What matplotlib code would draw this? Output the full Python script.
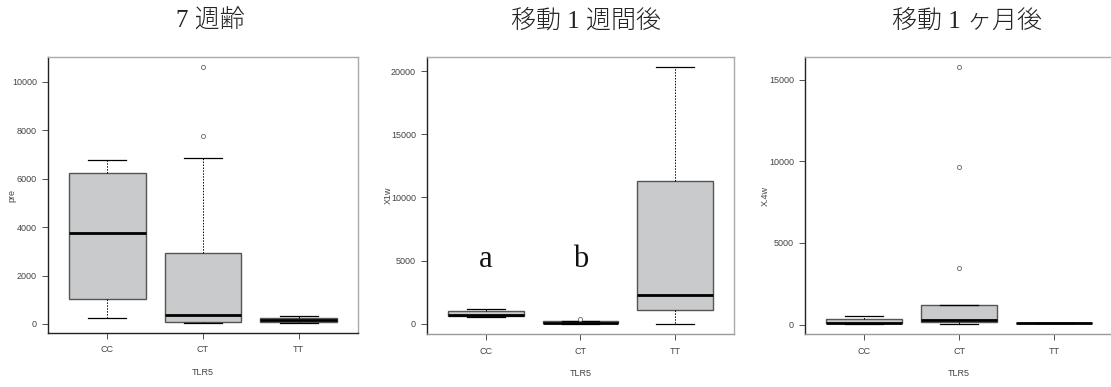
import matplotlib
matplotlib.use("Agg")
import matplotlib.pyplot as plt

# genotype groups on the x axis
groups = ["CC", "CT", "TT"]

# five-number summaries per panel: low whisker, Q1, median, Q3, high whisker
pre_low = [250, 50, 50]
pre_q1 = [1050, 100, 100]
pre_med = [3750, 380, 150]
pre_q3 = [6250, 2950, 250]
pre_high = [6750, 6870, 350]
pre_out = [[], [7750, 10600], []]

w1_low = [560, 0, 0]
w1_q1 = [620, 20, 1100]
w1_med = [660, 60, 2250]
w1_q3 = [1000, 180, 11300]
w1_high = [1200, 250, 20300]
w1_out = [[], [380], []]

w4_low = [60, 60, 80]
w4_q1 = [80, 150, 90]
w4_med = [100, 280, 100]
w4_q3 = [370, 1230, 110]
w4_high = [550, 1230, 130]
w4_out = [[], [3450, 9650, 15750], []]

titles = ["7 週齢", "移動 1 週間後", "移動 1 ヶ月後"]
ylabels = ["pre", "X1w", "X.4w"]
xlabel = "TLR5"
letters = ["a", "b"]
letter_y = 4460

panels = [
    (pre_low, pre_q1, pre_med, pre_q3, pre_high, pre_out, [0, 2000, 4000, 6000, 8000, 10000]),
    (w1_low, w1_q1, w1_med, w1_q3, w1_high, w1_out, [0, 5000, 10000, 15000, 20000]),
    (w4_low, w4_q1, w4_med, w4_q3, w4_high, w4_out, [0, 5000, 10000, 15000]),
]

W, H = 1111, 387
fig = plt.figure(figsize=(W / 100, H / 100), dpi=100)

# axes boxes in pixels: left, right, top, bottom
boxes = [(48, 358, 57, 333), (427, 734, 57, 334), (805, 1113, 57, 334)]
title_x = [210, 586, 967]
ylab_x = [12, 388, 765]

cjk = ["Liberation Serif", "Noto Sans CJK JP"]
sans = "Liberation Sans"

for i, (lo, q1, med, q3, hi, out, ticks) in enumerate(panels):
    l, r, t, b = boxes[i]
    ax = fig.add_axes([l / W, (H - b) / H, (r - l) / W, (b - t) / H])
    stats = [dict(whislo=lo[k], q1=q1[k], med=med[k], q3=q3[k], whishi=hi[k],
                  fliers=out[k], label=groups[k]) for k in range(3)]
    ax.bxp(stats, positions=[1, 2, 3], widths=0.8, capwidths=0.4,
           patch_artist=True,
           boxprops=dict(facecolor="#c9cacc", edgecolor="#555555", linewidth=1.0),
           medianprops=dict(color="black", linewidth=2.0),
           whiskerprops=dict(color="black", linewidth=0.7, linestyle=(0, (1.5, 1.5))),
           capprops=dict(color="black", linewidth=0.9),
           flierprops=dict(marker="o", markersize=3, markerfacecolor="white",
                           markeredgecolor="#666666", markeredgewidth=0.6))

    # R-style 4% padding on both axes
    vals = lo + hi + [v for o in out for v in o]
    vmin, vmax = min(vals), max(vals)
    pad = 0.04 * (vmax - vmin)
    ax.set_ylim(vmin - pad, vmax + pad)
    ax.set_xlim(0.38, 3.62)

    ax.set_yticks(ticks)
    ax.set_yticklabels([str(v) for v in ticks])
    ax.tick_params(axis="both", labelsize=6.5, length=4, width=0.6, color="#333333",
                   labelcolor="#444444", pad=4)
    ax.tick_params(axis="x", pad=5)
    for lab in ax.get_xticklabels() + ax.get_yticklabels():
        lab.set_family(sans)

    ax.spines["left"].set_color("#222222")
    ax.spines["bottom"].set_color("#222222" if i == 0 else "#999999")
    ax.spines["top"].set_color("#aaaaaa")
    ax.spines["right"].set_color("#aaaaaa")
    for s in ax.spines.values():
        s.set_linewidth(1.0)

    ax.set_xlabel(xlabel, fontsize=6.5, family=sans, color="#444444", labelpad=10)
    fig.text(ylab_x[i] / W, (H - (t + b) / 2) / H, ylabels[i], rotation=90,
             ha="center", va="center", fontsize=6.5, family=sans, color="#444444")

    fig.text(title_x[i] / W, (H - 21) / H, titles[i], ha="center", va="center",
             fontsize=18, family=cjk, fontweight="light", color="#222222")

    if i == 1:
        for k, s in enumerate(letters):
            ax.text(k + 1, letter_y, s, ha="center", va="baseline", fontsize=22,
                    family="Liberation Serif", color="#111111")

fig.savefig("out.png", dpi=100)
